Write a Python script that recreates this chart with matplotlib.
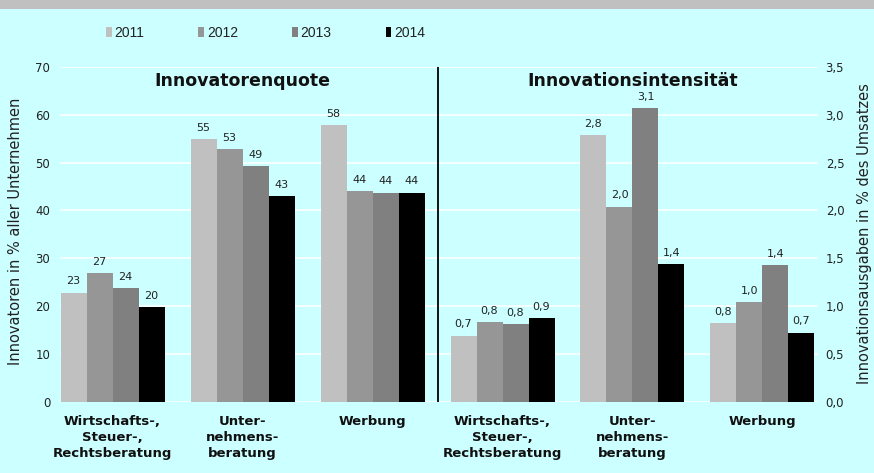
import matplotlib
matplotlib.use("Agg")
import matplotlib.pyplot as plt
from matplotlib.patches import Rectangle
import numpy as np

years = ["2011", "2012", "2013", "2014"]
colors = ["#C0C0C0", "#969696", "#808080", "#000000"]
categories = ["Wirtschafts-,\nSteuer-,\nRechtsberatung", "Unter-\nnehmens-\nberatung", "Werbung"]

# Innovatorenquote (% of firms), per year: [Wirtschafts, Unternehmens, Werbung]
quote = {
    "2011": [22.8, 54.9, 57.9],
    "2012": [26.9, 52.8, 44.0],
    "2013": [23.7, 49.3, 43.7],
    "2014": [19.8, 43.0, 43.7],
}
# Innovationsintensität (% of turnover)
intens = {
    "2011": [0.69, 2.79, 0.82],
    "2012": [0.83, 2.04, 1.04],
    "2013": [0.81, 3.07, 1.43],
    "2014": [0.87, 1.44, 0.72],
}
left_ticks = [0, 10, 20, 30, 40, 50, 60, 70]
right_ticks = [0.0, 0.5, 1.0, 1.5, 2.0, 2.5, 3.0, 3.5]

BG = "#CCFFFF"
TXT = "#222222"

fig = plt.figure(figsize=(8.74, 4.73), dpi=100, facecolor=BG)
fig.patches.append(Rectangle((0, 1 - 9 / 473), 1, 9 / 473, transform=fig.transFigure,
                             facecolor="#C0C0C0", edgecolor="none"))

ax = fig.add_axes([60 / 874, (473 - 401.5) / 473, (818 - 60) / 874, (401.5 - 67) / 473])
ax.set_facecolor(BG)
ax2 = ax.twinx()

bw = 0.2
left_x = np.arange(3)
right_x = np.arange(3) + 3
handles = []
for i, y in enumerate(years):
    off = (i - 1.5) * bw
    h = ax.bar(left_x + off, quote[y], bw, color=colors[i], zorder=3, label=y)
    handles.append(h)
    for xx, v in zip(left_x + off, quote[y]):
        ax.text(xx, v + 1.3, f"{v:.0f}", ha="center", va="bottom", fontsize=8,
                color=TXT, family="DejaVu Sans", zorder=4)
    ax2.bar(right_x + off, intens[y], bw, color=colors[i], zorder=3)
    for xx, v in zip(right_x + off, intens[y]):
        ax2.text(xx, v + 0.065, f"{v:.1f}".replace(".", ","), ha="center", va="bottom",
                 fontsize=8, color=TXT, family="DejaVu Sans", zorder=4)

ax.set_xlim(-0.404, 5.427)
ax.set_ylim(0, 70)
ax2.set_ylim(0, 3.5)
ax.set_yticks(left_ticks)
ax.set_yticklabels([str(t) for t in left_ticks], fontsize=8.5, color=TXT, family="DejaVu Sans")
ax2.set_yticks(right_ticks)
ax2.set_yticklabels([f"{t:.1f}".replace(".", ",") for t in right_ticks], fontsize=8.5,
                    color=TXT, family="DejaVu Sans")
ax.tick_params(axis="y", length=0, pad=7)
ax2.tick_params(axis="y", length=0, pad=5.5)
ax.set_xticks(list(left_x) + list(right_x))
ax.set_xticklabels(categories * 2, fontsize=9.5, fontweight="bold", color="#111111",
                   family="DejaVu Sans", linespacing=1.3, va="top")
ax.tick_params(axis="x", length=0, pad=10)
for a in (ax, ax2):
    for s in a.spines.values():
        s.set_visible(False)
ax.yaxis.grid(True, color="white", linewidth=1.1, zorder=0)
ax.set_axisbelow(True)
ax.axvline(2.5, color="black", linewidth=1.3, zorder=5)

ax.text(1.0, 67, "Innovatorenquote", ha="center", va="center", fontsize=12.5,
        fontweight="bold", color="#111111", family="DejaVu Sans")
ax.text(4.0, 67, "Innovationsintensität", ha="center", va="center", fontsize=12.5,
        fontweight="bold", color="#111111", family="DejaVu Sans")

fig.text(16 / 874, 1 - 231 / 473, "Innovatoren in % aller Unternehmen", rotation=90,
         ha="center", va="center", fontsize=10.5, color=TXT, family="DejaVu Sans")
fig.text(865 / 874, 1 - 234 / 473, "Innovationsausgaben in % des Umsatzes", rotation=90,
         ha="center", va="center", fontsize=10.5, color=TXT, family="DejaVu Sans")

leg = fig.legend(handles=handles, labels=years, loc="center", ncol=4,
                 bbox_to_anchor=(265.5 / 874, 1 - 33 / 473), frameon=False,
                 handlelength=0.4, handleheight=0.75, handletextpad=0.2,
                 columnspacing=3.9, prop={"family": "Liberation Sans", "size": 10})
for t in leg.get_texts():
    t.set_color(TXT)

fig.savefig("out.png", dpi=100, facecolor=BG)
